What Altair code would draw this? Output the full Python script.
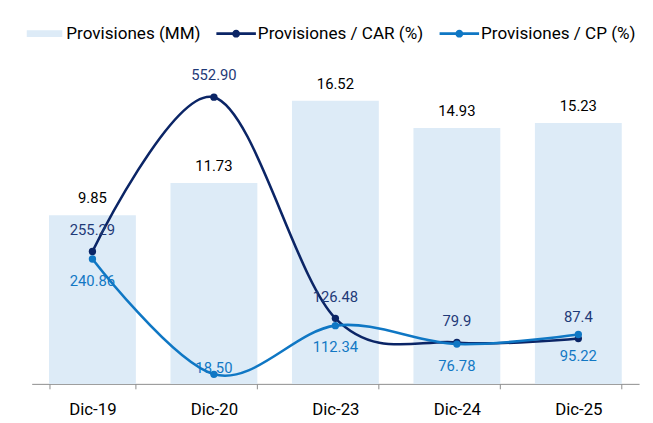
import altair as alt
import pandas as pd

periodos = ["Dic-19", "Dic-20", "Dic-23", "Dic-24", "Dic-25"]
prov_mm = [9.85, 11.73, 16.52, 14.93, 15.23]
prov_car = [255.29, 552.90, 126.48, 79.9, 87.4]
prov_cp = [240.86, 18.50, 112.34, 76.78, 95.22]
mm_labels = ["9.85", "11.73", "16.52", "14.93", "15.23"]
car_labels = ["255.29", "552.90", "126.48", "79.9", "87.4"]
cp_labels = ["240.86", "18.50", "112.34", "76.78", "95.22"]
series = ["Provisiones (MM)", "Provisiones / CAR (%)", "Provisiones / CP (%)"]

C_BAR = "#DDEBF7"
C_CAR = "#0B2566"
C_CP = "#0F77C4"
C_CAR_TXT = "#1F3A78"
C_CP_TXT = "#1278C4"
FONT = "Roboto"

df = pd.DataFrame({
    "periodo": periodos, "mm": prov_mm, "car": prov_car, "cp": prov_cp,
    "mm_lbl": mm_labels, "car_lbl": car_labels, "cp_lbl": cp_labels,
})
leg_df = pd.DataFrame({"serie": series})

x = alt.X("periodo:N", sort=periodos,
          scale=alt.Scale(paddingInner=0.285, paddingOuter=0.1425),
          axis=alt.Axis(title=None, labelAngle=0, tickBand="extent", grid=False,
                        domainColor="#8C8C8C", tickColor="#8C8C8C", tickSize=5,
                        labelFont=FONT, labelFontSize=17, labelColor="#000000",
                        labelPadding=13))

y_bar = alt.Y("mm:Q", scale=alt.Scale(domain=[0, 19.37], nice=False), axis=None)
bars = alt.Chart(df).mark_bar(color=C_BAR).encode(x=x, y=y_bar)
bar_txt = alt.Chart(df).mark_text(dy=-12, baseline="alphabetic", font=FONT,
                                  fontSize=15, color="#000000").encode(
    x=x, y=y_bar, text="mm_lbl:N")
bar_layer = alt.layer(bars, bar_txt)

lscale = alt.Scale(domain=[0, 640], nice=False)
y_car = alt.Y("car:Q", scale=lscale, axis=None)
y_cp = alt.Y("cp:Q", scale=lscale, axis=None)

car_line = alt.Chart(df).mark_line(interpolate="cardinal", color=C_CAR, strokeWidth=2.6).encode(x=x, y=y_car)
car_pts = alt.Chart(df).mark_circle(size=55, color=C_CAR, opacity=1).encode(x=x, y=y_car)
car_txt = alt.Chart(df).mark_text(dy=-17, baseline="alphabetic", font=FONT, fontSize=15,
                                  color=C_CAR_TXT).encode(x=x, y=y_car, text="car_lbl:N")
cp_line = alt.Chart(df).mark_line(interpolate="cardinal", color=C_CP, strokeWidth=2.6).encode(x=x, y=y_cp)
cp_pts = alt.Chart(df).mark_circle(size=55, color=C_CP, opacity=1).encode(x=x, y=y_cp)
cp_txt = alt.Chart(df).transform_filter("datum.cp >= 50").mark_text(
    dy=27, baseline="alphabetic", font=FONT, fontSize=15, color=C_CP_TXT).encode(
    x=x, y=y_cp, text="cp_lbl:N")
cp_txt_low = alt.Chart(df).transform_filter("datum.cp < 50").mark_text(
    dy=-1, baseline="alphabetic", font=FONT, fontSize=15, color=C_CP_TXT).encode(
    x=x, y=y_cp, text="cp_lbl:N")
line_layer = alt.layer(car_line, car_pts, car_txt, cp_line, cp_pts, cp_txt, cp_txt_low)

rect_path = "M-0.9,-0.17H0.9V0.17H-0.9Z"
line_path = ("M-1,-0.075H1V0.075H-1Z "
             "M0.2,0A0.2,0.2 0 1 1 -0.2,0A0.2,0.2 0 1 1 0.2,0Z")
leg = alt.Legend(title=None, orient="none", legendX=-7, legendY=-39, direction="horizontal",
                 labelFont=FONT, labelFontSize=17.3, labelColor="#000000", labelLimit=0,
                 symbolSize=1600, symbolStrokeWidth=0, labelOffset=2, columnPadding=16,
                 padding=0)
legend_layer = alt.Chart(leg_df).transform_filter("false").mark_point(
    filled=True, size=1600, opacity=1, strokeWidth=0).encode(
    color=alt.Color("serie:N", scale=alt.Scale(domain=series, range=[C_BAR, C_CAR, C_CP]), legend=leg),
    shape=alt.Shape("serie:N", scale=alt.Scale(domain=series, range=[rect_path, line_path, line_path]), legend=leg),
)

chart = alt.layer(bar_layer, line_layer, legend_layer).resolve_scale(y="independent").properties(
    width=615, height=336,
    autosize=alt.AutoSizeParams(type="none"),
    padding={"left": 24, "top": 42, "right": 6, "bottom": 36},
).configure_view(stroke=None)

chart.save("out.html", embed_options={"renderer": "svg", "actions": False})
